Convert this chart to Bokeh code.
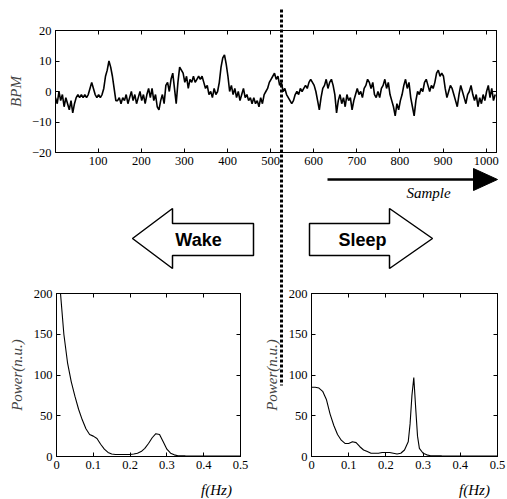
import numpy as np
from bokeh.plotting import figure
from bokeh.layouts import column, row
from bokeh.models import Range1d, LinearAxis, FixedTicker, GridBox, CustomJSTickFormatter
from bokeh.core.properties import value
from bokeh.embed import file_html
from bokeh.resources import INLINE

# ---------------- data ----------------
sample = list(range(1, 1025, 4))
bpm = [
    -2, -4, 0, -3, -1, -5, -2, -4, -6, -3, -7, -4, -2, -1, -2, -1, -2, -1, -2, -1, 1, 3, 1, -1, -2,
    -1, -2, -1, 1, 5, 7, 10, 8, 5, 1, -3, -3, -2, -4, -2, -3, -1, -4, -2, 0, -3, -1, -4, -2, 0,
    -3, -1, -4, -1, 1, -2, 1, -3, -1, -5, -6, -3, -1, -4, 2, 3, 0, 4, 6, 1, -4, 3, 8, 7, 6,
    3, 5, 1, 4, 3, 5, 3, 4, 5, 4, 5, 3, 1, 2, -1, 0, -2, 1, -1, 0, 3, 8, 11, 12, 9,
    5, 0, 2, -1, 1, -2, 0, -3, -1, 1, -2, -1, -3, -2, -4, -2, -4, -3, -5, -2, -4, -1, 0, 1, 3,
    4, 5, 6, 4, 5, 2, 3, 0, 1, -1, -2, -3, -4, -3, -1, 0, -1, 1, 0, 1, 2, 1, 3, 4, 3,
    2, 0, -3, -6, -2, 1, 2, 4, 1, 3, 4, 2, -1, -7, -3, -1, -4, -2, -5, -1, -3, -2, -6, -3, -1,
    1, -1, 0, -2, 1, 2, 4, 3, 1, 3, -1, -2, 0, -2, 1, 2, 4, 1, 3, -1, -3, -5, -8, -4, -6,
    -3, -1, 2, 4, 1, 3, -2, -5, -8, -3, 0, -1, 1, 0, 3, 4, 2, 0, 2, 1, 3, 6, 7, 5, 6,
    5, 1, -2, 0, 2, 1, -1, -3, -5, -1, 2, 0, -2, -4, -1, 0, 2, -1, -3, -1, -5, -2, -4, -1, -3,
    0, 2, -2, 1, -3, -1,
]
top_x_ticks = [100, 200, 300, 400, 500, 600, 700, 800, 900, 1000]
top_y_ticks = [-20, -10, 0, 10, 20]

f_wake = [0.0, 0.01, 0.02, 0.03, 0.04, 0.05, 0.06, 0.07, 0.08, 0.09, 0.10, 0.11, 0.12, 0.13,
          0.14, 0.15, 0.16, 0.18, 0.20, 0.21, 0.22, 0.23, 0.24, 0.25, 0.26, 0.27, 0.28, 0.29,
          0.30, 0.31, 0.32, 0.33, 0.35, 0.40, 0.45, 0.50]
p_wake = [260, 205, 150, 115, 92, 74, 58, 45, 34, 27, 25, 22, 15, 9,
          5, 3, 2.5, 2.5, 2.5, 3, 4, 6, 10, 16, 23, 28, 27, 18,
          9, 4, 2, 1, 0.8, 0.6, 0.5, 0.5]

f_sleep = [0.0, 0.01, 0.02, 0.03, 0.04, 0.05, 0.06, 0.07, 0.08, 0.09, 0.10, 0.11, 0.12, 0.13,
           0.14, 0.15, 0.16, 0.17, 0.18, 0.19, 0.20, 0.21, 0.22, 0.23, 0.24, 0.25, 0.26, 0.265,
           0.27, 0.275, 0.28, 0.285, 0.29, 0.30, 0.31, 0.32, 0.35, 0.40, 0.45, 0.50]
p_sleep = [85, 85, 84, 80, 70, 52, 38, 27, 20, 16, 16, 18, 17, 12,
           8, 6, 4, 4, 4, 5, 5, 5, 4, 3, 4, 8, 18, 40,
           75, 97, 60, 25, 10, 4, 2, 1, 0.8, 0.6, 0.5, 0.5]
f_ticks = [0, 0.1, 0.2, 0.3, 0.4, 0.5]
p_ticks = [0, 50, 100, 150, 200]

SERIF = "Liberation Serif"
SANS = "Liberation Sans"


def style_axis(ax, ticks, labels=True):
    ax.ticker = FixedTicker(ticks=ticks)
    ax.major_tick_in = 4
    ax.major_tick_out = 0
    ax.minor_tick_in = 0
    ax.minor_tick_out = 0
    ax.axis_line_color = "black"
    ax.major_tick_line_color = "black"
    ax.major_label_text_color = "black"
    ax.major_label_text_font = SERIF
    ax.major_label_text_font_size = "12.5px"
    ax.major_label_standoff = 4
    if not labels:
        ax.formatter = CustomJSTickFormatter(code="return ''")
        ax.major_label_standoff = 0


def mirror(p, xt, yt):
    t = LinearAxis()
    style_axis(t, xt, labels=False)
    p.add_layout(t, "above")
    r = LinearAxis()
    style_axis(r, yt, labels=False)
    p.add_layout(r, "right")


# ---------------- top panel ----------------
top = figure(frame_width=441, frame_height=122, min_border_left=55, min_border_right=11,
             min_border_top=30, min_border_bottom=133,
             x_range=Range1d(1, 1024), y_range=Range1d(-20, 20),
             toolbar_location=None, output_backend="svg",
             outline_line_color="black", background_fill_color="white", border_fill_color="white")
top.grid.visible = False
style_axis(top.xaxis[0], top_x_ticks)
style_axis(top.yaxis[0], top_y_ticks)
top.yaxis.axis_label = "BPM"
top.yaxis.axis_label_text_font = SERIF
top.yaxis.axis_label_text_font_style = "italic"
top.yaxis.axis_label_text_font_size = "15px"
top.yaxis.axis_label_standoff = 5
mirror(top, top_x_ticks, top_y_ticks)
top.line(sample, bpm, line_color="black", line_width=1.6)


# ---------------- spectra ----------------
def spec_fig(fx, py, frame_w, left_b, right_b):
    p = figure(frame_width=frame_w, frame_height=163, min_border_left=left_b, min_border_right=right_b,
               min_border_top=8, min_border_bottom=43,
               x_range=Range1d(0, 0.5), y_range=Range1d(0, 200),
               toolbar_location=None, output_backend="svg",
               outline_line_color="black", background_fill_color="white", border_fill_color="white")
    p.grid.visible = False
    style_axis(p.xaxis[0], f_ticks)
    style_axis(p.yaxis[0], p_ticks)
    p.xaxis.major_label_overrides = {0: "0"}
    p.yaxis.axis_label = "Power(n.u.)"
    p.yaxis.axis_label_text_font = SERIF
    p.yaxis.axis_label_text_font_style = "italic"
    p.yaxis.axis_label_text_font_size = "15px"
    p.yaxis.axis_label_standoff = 6
    mirror(p, f_ticks, p_ticks)
    p.line(fx, py, line_color="black", line_width=1.1)
    return p


bl = spec_fig(f_wake, p_wake, 184, 56, 18)
br = spec_fig(f_sleep, p_sleep, 186, 53, 10)

# ---------------- overlay (page pixel coordinates) ----------------
ov = figure(width=507, height=499, x_range=Range1d(0, 507), y_range=Range1d(499, 0),
            x_axis_type=None, y_axis_type=None, min_border=0,
            toolbar_location=None, output_backend="svg", outline_line_color=None,
            background_fill_color=None, border_fill_color=None)
ov.grid.visible = False

# dotted separator
ov.line([281, 281], [9, 385], line_color="black", line_width=3, line_dash="3 2")
# sample arrow
ov.line([327, 476], [179, 179], line_color="black", line_width=2.5)
ov.patch([473, 497, 473], [168, 179, 190], fill_color="black", line_color="black")
ov.text([428], [192], text=["Sample"], text_font=value(SERIF), text_font_style="italic",
        text_font_size="15px", text_align="center", text_baseline="middle", text_color="black")
# wake / sleep arrows
ov.patch([132, 172, 172, 253, 253, 172, 172], [238, 208, 223, 223, 255, 255, 268],
         fill_color="white", line_color="black", line_width=1.5)
ov.patch([309, 389, 389, 432, 389, 389, 309], [223, 223, 208, 238, 268, 255, 255],
         fill_color="white", line_color="black", line_width=1.5)
ov.text([198, 362], [239, 239], text=["Wake", "Sleep"], text_font=value(SANS), text_font_style="bold",
        text_font_size="18px", text_align="center", text_baseline="middle", text_color="black")
# frequency axis labels
ov.text([216, 474], [489, 489], text=["f(Hz)", "f(Hz)"], text_font=value(SERIF), text_font_style="italic",
        text_font_size="15px", text_align="center", text_baseline="middle", text_color="black")

inner = column(top, row(bl, br, spacing=0), spacing=0)
grid = GridBox(children=[(inner, 0, 0), (ov, 0, 0)], spacing=0)

open("out.html", "w").write(file_html(grid, INLINE))
